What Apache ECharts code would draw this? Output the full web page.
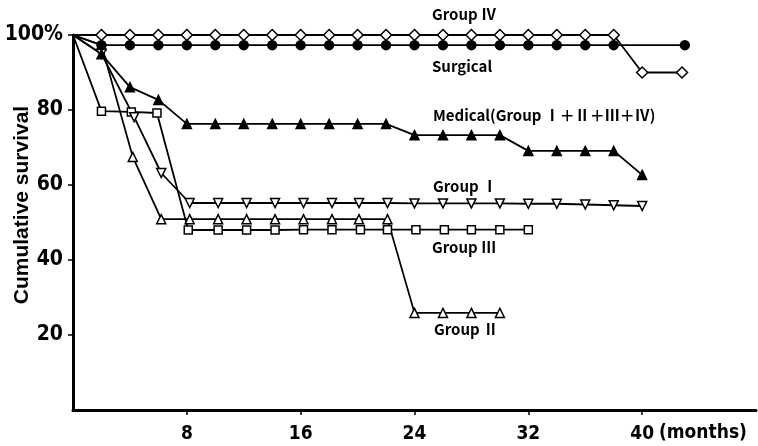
<!DOCTYPE html>
<html><head><meta charset="utf-8">
<script src="https://cdn.jsdelivr.net/npm/echarts@6/dist/echarts.min.js"></script>
<style>html,body{margin:0;padding:0;background:#fff}#c{width:758px;height:446px}</style>
</head><body><div id="c"></div>
<script>
// ---- data (months, cumulative survival %) ----
const surgicalMonths = [0,2,4,6,8,10,12,14,16,18,20,22,24,26,28,30,32,34,36,38,43];
const surgicalValues = [100,97.3,97.3,97.3,97.3,97.3,97.3,97.3,97.3,97.3,97.3,97.3,97.3,97.3,97.3,97.3,97.3,97.3,97.3,97.3,97.3];

const group4Months = [0,2,4,6,8,10,12,14,16,18,20,22,24,26,28,30,32,34,36,38,40,42.8];
const group4Values = [100,100,100,100,100,100,100,100,100,100,100,100,100,100,100,100,100,100,100,100,90,90];

const medicalMonths = [0,2,4,6,8,10,12,14,16,18,20,22,24,26,28,30,32,34,36,38,40];
const medicalValues = [100,94.9,86.1,82.7,76.3,76.3,76.3,76.3,76.3,76.3,76.3,76.3,73.3,73.3,73.3,73.3,69.1,69.1,69.1,69.1,62.7];

const group1Months = [0,2,4.3,6.2,8.2,10.2,12.2,14.2,16.2,18.2,20.1,22.1,24,26,28,30,32,34,36,38,40];
const group1Values = [100,95,78.1,63.2,55.2,55.2,55.2,55.2,55.2,55.2,55.2,55.2,55.1,55.1,55.1,55.1,55,55,54.8,54.6,54.4];

const group2Months = [0,2,4.2,6.2,8.2,10.2,12.2,14.2,16.2,18.2,20.1,22.1,24,26,28,30];
const group2Values = [100,97.3,67.5,50.9,50.9,50.9,50.9,50.9,50.9,50.9,50.9,50.9,25.9,25.9,25.9,25.9];

const group3Months = [0,2,4.1,5.9,8.1,10.2,12.2,14.2,16.2,18.2,20.2,22.1,24.1,26.1,28,30,32];
const group3Values = [100,79.7,79.5,79.2,48,48,48,48,48.1,48.1,48.1,48.1,48.1,48.1,48.1,48.1,48.1];

const xTicks = [8,16,24,32,40];
const yTicks = [20,40,60,80,100];

const seriesLabels = [
  {text:'Group Ⅳ', x:432, y:17},
  {text:'Surgical', x:432, y:69},
  {text:'Medical(Group Ⅰ＋Ⅱ＋Ⅲ＋Ⅳ)', x:433, y:118},
  {text:'Group Ⅰ', x:433, y:189},
  {text:'Group Ⅲ', x:432, y:250},
  {text:'Group Ⅱ', x:434, y:332}
];

const NUMFONT = '"Liberation Sans Narrow","DejaVu Sans Condensed","Noto Sans",sans-serif';
const LBLFONT = '"Noto Sans CJK JP","Noto Sans",sans-serif';

function pts(m, v){
  return m.map((x,i)=> i===0 ? {value:[x,v[i]], symbol:'none'} : [x,v[i]]);
}
function mk(name, m, v, symbol, filled, size, rotate){
  return {
    name, type:'line', data: pts(m,v), symbol, symbolSize:size, symbolRotate: rotate||0,
    showSymbol:true, animation:false,
    lineStyle:{color:'#000', width:1.8},
    itemStyle:{color: filled ? '#000' : '#fff', borderColor:'#000', borderWidth:1.5, opacity:1}
  };
}

const chart = echarts.init(document.getElementById('c'), null, {renderer:'canvas'});
chart.setOption({
  animation:false,
  backgroundColor:'#fff',
  grid:{left:73, top:35, right:2, bottom:36, containLabel:false},
  xAxis:{
    type:'value', min:0, max:48, interval:8,
    axisLine:{show:true, lineStyle:{color:'#000', width:3}},
    axisTick:{show:true, length:5, lineStyle:{color:'#000', width:1.5}, customValues: xTicks},
    axisLabel:{customValues: xTicks, color:'#000', fontFamily:NUMFONT, fontWeight:'bold', fontSize:19, margin:15},
    splitLine:{show:false}
  },
  yAxis:{
    type:'value', min:0, max:100, interval:20,
    axisLine:{show:true, lineStyle:{color:'#000', width:3}},
    axisTick:{show:true, length:5, lineStyle:{color:'#000', width:1.5}, customValues: yTicks},
    axisLabel:{customValues: yTicks, color:'#000', fontFamily:NUMFONT, fontWeight:'bold', fontSize:21, margin:10,
      formatter: v => v===100 ? '100%' : String(v)},
    splitLine:{show:false}
  },
  series:[
    mk('Group III', group3Months, group3Values, 'rect', false, 8),
    mk('Group II', group2Months, group2Values, 'triangle', false, 9),
    mk('Group I', group1Months, group1Values, 'triangle', false, 9, 180),
    mk('Medical', medicalMonths, medicalValues, 'triangle', true, 9),
    mk('Surgical', surgicalMonths, surgicalValues, 'circle', true, 9),
    mk('Group IV', group4Months, group4Values, 'diamond', false, 11)
  ],
  graphic:[
    ...seriesLabels.map(l=>({type:'text', left:l.x, top:l.y-10, style:{text:l.text, fill:'#000', font:'bold 15px '+LBLFONT}})),
    {type:'text', left:659, top:424, style:{text:'(months)', fill:'#000', font:'bold 19px '+NUMFONT}},
    {type:'text', x:12, y:205, rotation:Math.PI/2, style:{text:'Cumulative survival', fill:'#000', font:'bold 21px "Liberation Sans","DejaVu Sans",sans-serif', align:'center', verticalAlign:'top'}}
  ]
});
</script></body></html>
